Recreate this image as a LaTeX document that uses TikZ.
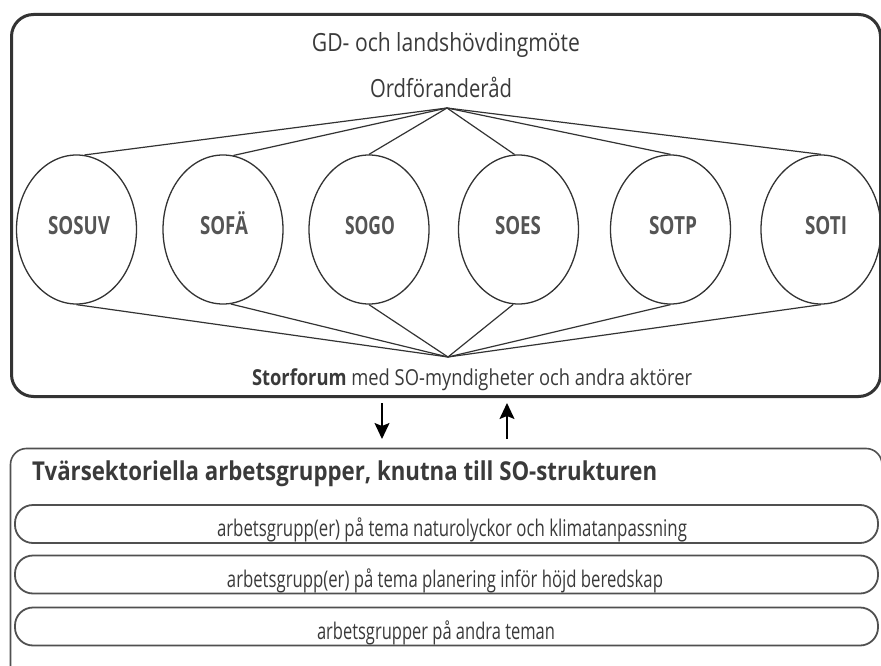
\documentclass[tikz,border=0pt]{standalone}
\usepackage{fontspec}
\usepackage{graphicx}
\setmainfont{Open Sans}
\usetikzlibrary{shapes.geometric,arrows.meta}
\definecolor{ink}{HTML}{333333}
\definecolor{txt}{HTML}{3A3A3A}
\definecolor{lbl}{HTML}{555555}
\definecolor{boxc}{HTML}{505050}
\newcommand\cwtext[3]{\resizebox{#1}{\height}{\fontsize{#2}{#2}\selectfont #3}}
\begin{document}
\begin{tikzpicture}[x=1pt,y=-1pt,
  outerbox/.style={draw=ink, line width=3pt, rounded corners=22pt},
  lowerbox/.style={draw=boxc, line width=1.6pt, rounded corners=16pt},
  subbox/.style={draw=boxc, line width=1.8pt, rounded corners=18pt},
  orgell/.style={ellipse, draw=ink, line width=1.3pt, minimum width=120pt, minimum height=149pt, inner sep=0pt},
  link/.style={draw=ink, line width=1.2pt},
  flow/.style={draw=black, line width=1.5pt, -{Stealth[length=16pt,width=15pt,inset=3pt]}},
  txtnode/.style={inner sep=0pt, text=txt, anchor=base},
  lblnode/.style={inner sep=0pt, text=lbl, anchor=base, font=\bfseries}
]
\useasboundingbox (0,0) rectangle (881,666);

% outer frame
\draw[outerbox] (11.5,14.5) rectangle (880.5,396.5);

% titles
\node[txtnode] (gd) at (446,52) {\cwtext{268pt}{25}{GD- och landshövdingmöte}};
\node[txtnode] (ord) at (441,98) {\cwtext{142pt}{25}{Ordföranderåd}};
\node[txtnode] (stor) at (472,385) {\cwtext{440pt}{22}{\textbf{Storforum} med SO-myndigheter och andra aktörer}};

% apexes
\coordinate (top) at (447,108);
\coordinate (bot) at (448,357);

% ellipses
\node[orgell] (e1) at (76.5,229.5) {};
\node[orgell] (e2) at (223,229.5) {};
\node[orgell] (e3) at (369,229.5) {};
\node[orgell] (e4) at (518.5,229.5) {};
\node[orgell] (e5) at (670.5,229.5) {};
\node[orgell] (e6) at (821,229.5) {};

\node[lblnode] (l1) at (79,234) {\cwtext{62pt}{25}{SOSUV}};
\node[lblnode] (l2) at (224,234) {\cwtext{48pt}{25}{SOFÄ}};
\node[lblnode] (l3) at (370,234) {\cwtext{50pt}{25}{SOGO}};
\node[lblnode] (l4) at (518,234) {\cwtext{46pt}{25}{SOES}};
\node[lblnode] (l5) at (673,234) {\cwtext{48pt}{25}{SOTP}};
\node[lblnode] (l6) at (826,234) {\cwtext{42pt}{25}{SOTI}};

% connectors to top apex
\draw[link] (top) -- (e1.84);
\draw[link] (top) -- (e2.82);
\draw[link] (top) -- (e3.north);
\draw[link] (top) -- (e4.93);
\draw[link] (top) -- (e5.north);
\draw[link] (top) -- (e6.north);
% connectors to bottom apex
\draw[link] (bot) -- (e1.south);
\draw[link] (bot) -- (e2.-84);
\draw[link] (bot) -- (e3.south);
\draw[link] (bot) -- (e4.-94);
\draw[link] (bot) -- (e5.south);
\draw[link] (bot) -- (e6.south);

% arrows between levels
\coordinate (dn1) at (382,403);
\coordinate (dn2) at (382,439);
\coordinate (up1) at (507,439);
\coordinate (up2) at (507,403);
\draw[flow] (dn1) -- (dn2);
\draw[flow] (up1) -- (up2);

% lower frame
\draw[lowerbox] (10.5,448.5) rectangle (882,690);
\node[txtnode, anchor=base west, font=\bfseries] (tv) at (32,480) {\cwtext{625pt}{26}{Tvärsektoriella arbetsgrupper, knutna till SO-strukturen}};

\node[subbox, minimum width=863pt, minimum height=38pt, inner sep=0pt] (r1) at (446.5,524) {};
\node[subbox, minimum width=863pt, minimum height=38pt, inner sep=0pt] (r2) at (446.5,574.5) {};
\node[subbox, minimum width=863pt, minimum height=38pt, inner sep=0pt] (r3) at (446.5,626.5) {};

\node[txtnode] (t1) at (452,536) {\cwtext{470pt}{23}{arbetsgrupp(er) på tema naturolyckor och klimatanpassning}};
\node[txtnode] (t2) at (445,587) {\cwtext{436pt}{23}{arbetsgrupp(er) på tema planering inför höjd beredskap}};
\node[txtnode] (t3) at (436,639) {\cwtext{238pt}{23}{arbetsgrupper på andra teman}};
\end{tikzpicture}
\end{document}
